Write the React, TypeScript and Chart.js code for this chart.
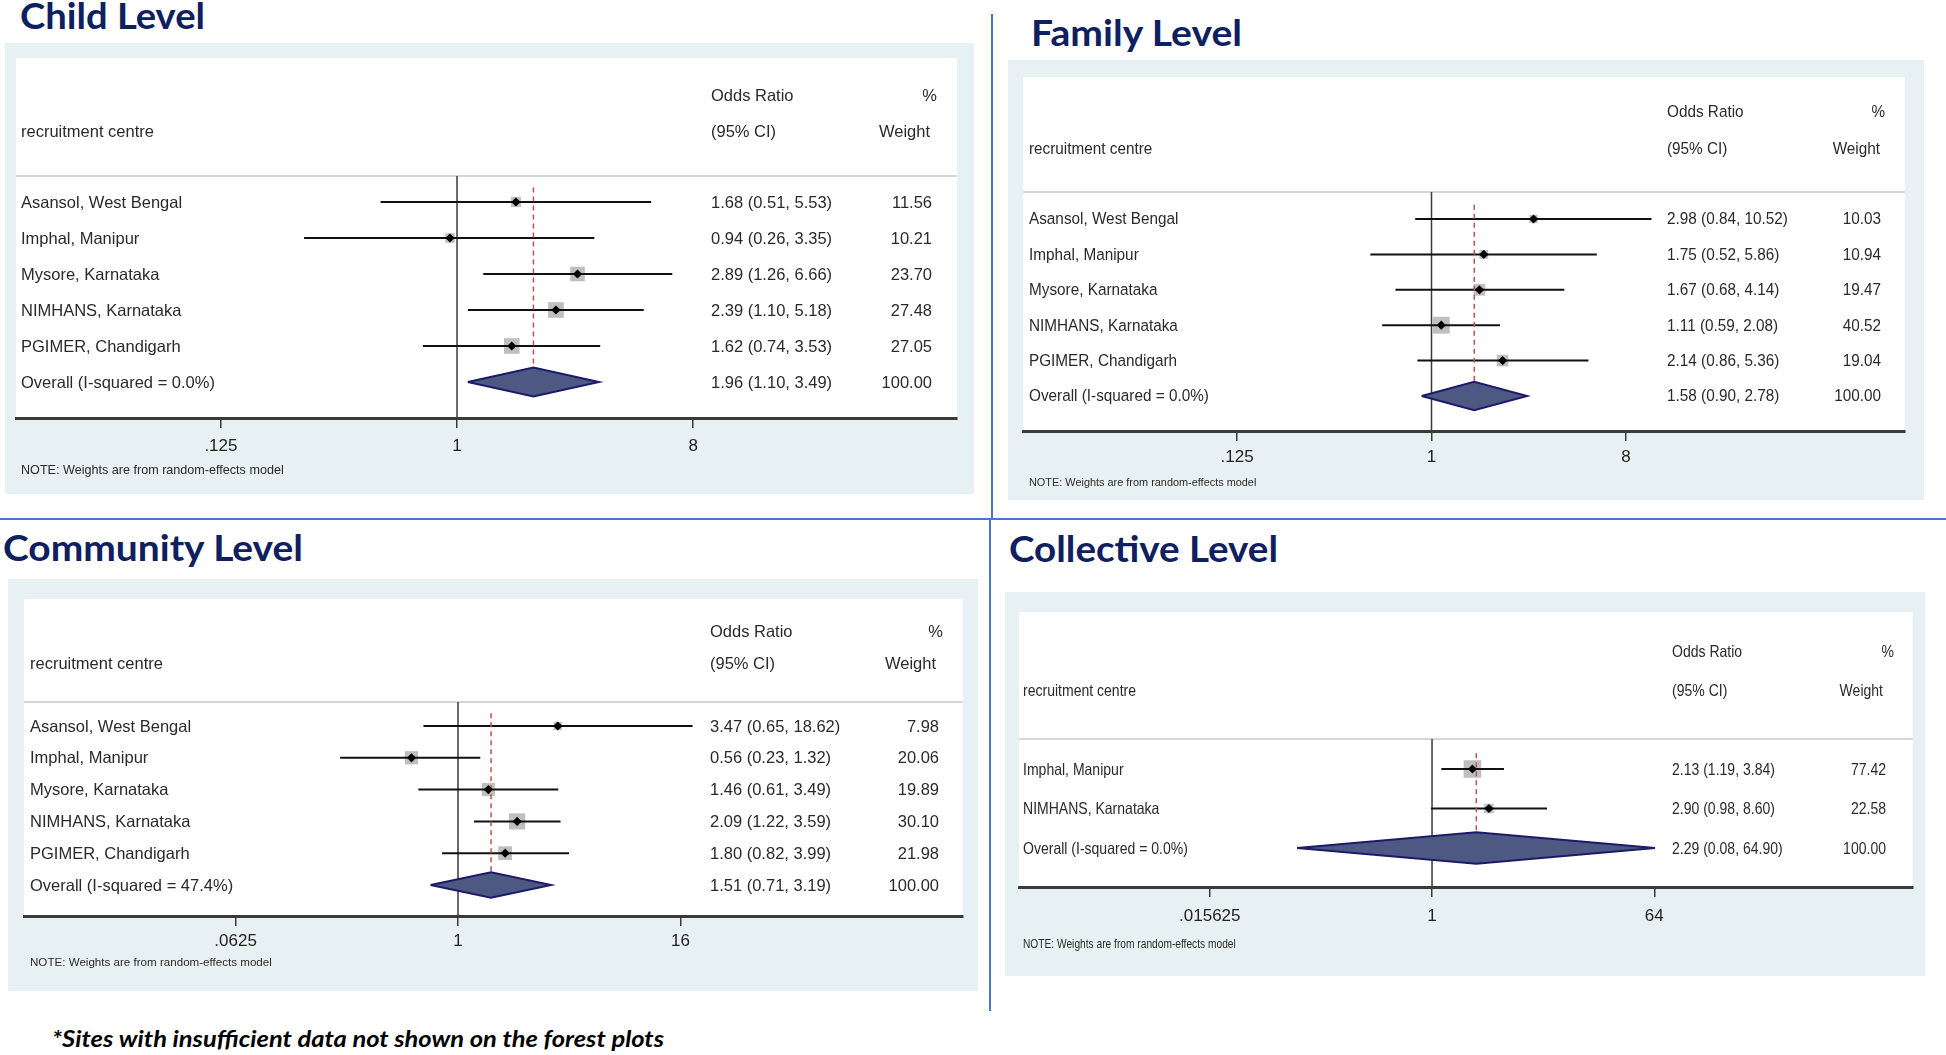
import React, { useEffect, useLayoutEffect, useRef } from "react";
import { Chart, registerables } from "chart.js";

Chart.register(...registerables);

// ---------------- Data ----------------
const panelTitles = ["Child Level", "Family Level", "Community Level", "Collective Level"];
const footnote = "*Sites with insufficient data not shown on the forest plots";
const noteText = "NOTE: Weights are from random-effects model";

const fiveSites = [
  "Asansol, West Bengal",
  "Imphal, Manipur",
  "Mysore, Karnataka",
  "NIMHANS, Karnataka",
  "PGIMER, Chandigarh",
];

// Child level
const childSites = fiveSites;
const childOR = [1.68, 0.94, 2.89, 2.39, 1.62];
const childLow = [0.51, 0.26, 1.26, 1.1, 0.74];
const childHigh = [5.53, 3.35, 6.66, 5.18, 3.53];
const childWeight = [11.56, 10.21, 23.7, 27.48, 27.05];
const childOverall = [1.96, 1.1, 3.49];
const childI2 = "0.0%";
const childTicks = [0.125, 1, 8];

// Family level
const familySites = fiveSites;
const familyOR = [2.98, 1.75, 1.67, 1.11, 2.14];
const familyLow = [0.84, 0.52, 0.68, 0.59, 0.86];
const familyHigh = [10.52, 5.86, 4.14, 2.08, 5.36];
const familyWeight = [10.03, 10.94, 19.47, 40.52, 19.04];
const familyOverall = [1.58, 0.9, 2.78];
const familyI2 = "0.0%";
const familyTicks = [0.125, 1, 8];

// Community level
const communitySites = fiveSites;
const communityOR = [3.47, 0.56, 1.46, 2.09, 1.8];
const communityLow = [0.65, 0.23, 0.61, 1.22, 0.82];
const communityHigh = [18.62, 1.32, 3.49, 3.59, 3.99];
const communityWeight = [7.98, 20.06, 19.89, 30.1, 21.98];
const communityOverall = [1.51, 0.71, 3.19];
const communityI2 = "47.4%";
const communityTicks = [0.0625, 1, 16];

// Collective level
const collectiveSites = ["Imphal, Manipur", "NIMHANS, Karnataka"];
const collectiveOR = [2.13, 2.9];
const collectiveLow = [1.19, 0.98];
const collectiveHigh = [3.84, 8.6];
const collectiveWeight = [77.42, 22.58];
const collectiveOverall = [2.29, 0.08, 64.9];
const collectiveI2 = "0.0%";
const collectiveTicks = [0.015625, 1, 64];

const overallWeight = 100;

// ---------------- Layout (page pixels) ----------------
type Layout = {
  bg: number[]; white: number[]; sep: number; row1: number; rowGap: number;
  one: number; unit: number; orX: number; wRight: number; pctRight: number;
  weightRight: number; hdr1: number; hdr2: number; labelX: number;
  tickY: number; noteY: number; font: number; sx: number; noteSize: number; boxK: number;
};

const childLayout: Layout = {
  bg: [5, 43, 974, 494], white: [16, 58, 957, 418], sep: 176, row1: 202, rowGap: 36,
  one: 457, unit: 78.7, orX: 711, wRight: 932, pctRight: 937, weightRight: 930,
  hdr1: 96, hdr2: 132, labelX: 21, tickY: 446, noteY: 471, font: 16.5, sx: 1, noteSize: 12.6, boxK: 3.0,
};
const familyLayout: Layout = {
  bg: [1008, 60, 1924, 500], white: [1023, 77, 1905, 431], sep: 192, row1: 219, rowGap: 35.4,
  one: 1431.5, unit: 64.8, orX: 1667, wRight: 1881, pctRight: 1885, weightRight: 1880,
  hdr1: 113, hdr2: 150, labelX: 1029, tickY: 457, noteY: 483, font: 16.3, sx: 0.94, noteSize: 11.6, boxK: 2.65,
};
const communityLayout: Layout = {
  bg: [8, 579, 978, 991], white: [24, 599, 963, 916], sep: 702, row1: 726, rowGap: 31.8,
  one: 458, unit: 55.6, orX: 710, wRight: 939, pctRight: 943, weightRight: 936,
  hdr1: 632, hdr2: 664, labelX: 30, tickY: 941, noteY: 963, font: 16.5, sx: 1, noteSize: 11.6, boxK: 2.95,
};
const collectiveLayout: Layout = {
  bg: [1005, 592, 1925, 976], white: [1019, 612, 1914, 887], sep: 739, row1: 769, rowGap: 39.5,
  one: 1432.7, unit: 37.1, orX: 1672, wRight: 1886, pctRight: 1894, weightRight: 1883,
  hdr1: 652, hdr2: 691, labelX: 1023, tickY: 916, noteY: 945, font: 16.5, sx: 0.85, noteSize: 12, boxK: 2.0,
};

type Panel = {
  sites: string[]; or: number[]; low: number[]; high: number[]; weight: number[];
  overall: number[]; i2: string; ticks: number[]; L: Layout;
};

const panels: Panel[] = [
  { sites: childSites, or: childOR, low: childLow, high: childHigh, weight: childWeight, overall: childOverall, i2: childI2, ticks: childTicks, L: childLayout },
  { sites: familySites, or: familyOR, low: familyLow, high: familyHigh, weight: familyWeight, overall: familyOverall, i2: familyI2, ticks: familyTicks, L: familyLayout },
  { sites: communitySites, or: communityOR, low: communityLow, high: communityHigh, weight: communityWeight, overall: communityOverall, i2: communityI2, ticks: communityTicks, L: communityLayout },
  { sites: collectiveSites, or: collectiveOR, low: collectiveLow, high: collectiveHigh, weight: collectiveWeight, overall: collectiveOverall, i2: collectiveI2, ticks: collectiveTicks, L: collectiveLayout },
];

const titleLayout = [
  { left: 20, base: 29, width: 185 },
  { left: 1031, base: 46, width: 211 },
  { left: 3, base: 561, width: 300 },
  { left: 1009, base: 562, width: 269 },
];

const FONT = '"Liberation Sans", Arial, Helvetica, sans-serif';
const TEXT_COLOR = "#2a2a2a";

const fmtTick = (v: number) => (v < 1 ? String(v).replace(/^0/, "") : String(v));
const fmtCI = (o: number, l: number, h: number) => `${o.toFixed(2)} (${l.toFixed(2)}, ${h.toFixed(2)})`;

function drawText(ctx: CanvasRenderingContext2D, text: string, x: number, y: number, align: CanvasTextAlign, size: number, sx: number) {
  ctx.save();
  ctx.translate(x, y);
  ctx.scale(sx, 1);
  ctx.textAlign = align;
  ctx.textBaseline = "middle";
  ctx.font = `${size}px ${FONT}`;
  ctx.fillStyle = TEXT_COLOR;
  ctx.fillText(text, 0, 0);
  ctx.restore();
}

function ForestChart({ p }: { p: Panel }) {
  const ref = useRef<HTMLCanvasElement>(null);
  const L = p.L;
  const W = L.bg[2] - L.bg[0];
  const H = L.bg[3] - L.bg[1];

  useEffect(() => {
    if (!ref.current) return;
    const n = p.sites.length;
    const yOf = (pix: number) => 1 + (pix - L.row1) / L.rowGap;
    const yMin = yOf(L.white[1]);
    const yMax = yOf(L.white[3]);
    const ySep = yOf(L.sep);
    const xMin = Math.pow(2, (L.white[0] - L.one) / L.unit);
    const xMax = Math.pow(2, (L.white[2] - L.one) / L.unit);
    const ovRow = n + 1;
    const [ov, ovLo, ovHi] = p.overall;
    const half = 0.4;

    const datasets: any[] = [];
    // null line
    datasets.push({ data: [{ x: 1, y: ySep }, { x: 1, y: yMax }], borderColor: "#3a3a3a", borderWidth: 1.5, pointRadius: 0, order: 10 });
    // weight boxes
    datasets.push({
      data: p.or.map((v, i) => ({ x: v, y: i + 1 })), showLine: false, pointStyle: "rect",
      pointRadius: p.weight.map((w) => (L.boxK * Math.sqrt(w)) / Math.SQRT2),
      pointBackgroundColor: "#bfbfbf", pointBorderWidth: 0, pointBorderColor: "#bfbfbf", order: 9,
    });
    // CI lines
    p.low.forEach((lo, i) => {
      datasets.push({ data: [{ x: lo, y: i + 1 }, { x: p.high[i], y: i + 1 }], borderColor: "#111111", borderWidth: 2, pointRadius: 0, order: 8 });
    });
    // overall dashed line
    datasets.push({ data: [{ x: ov, y: 1 - half }, { x: ov, y: ovRow + half }], borderColor: "#c0504d", borderDash: [5, 4], borderWidth: 1.5, pointRadius: 0, order: 7 });
    // overall diamond
    datasets.push({
      data: [{ x: ovLo, y: ovRow }, { x: ov, y: ovRow - half }, { x: ovHi, y: ovRow }, { x: ov, y: ovRow + half }, { x: ovLo, y: ovRow }],
      borderColor: "#1d1a6b", borderWidth: 2, backgroundColor: "#4e5983", fill: "shape", pointRadius: 0, order: 6,
      borderJoinStyle: "miter",
    });
    // point estimates
    datasets.push({
      data: p.or.map((v, i) => ({ x: v, y: i + 1 })), showLine: false, pointStyle: "rectRot", pointRadius: 4.6,
      pointBackgroundColor: "#000000", pointBorderWidth: 0, pointBorderColor: "#000000", order: 1,
    });

    const ox = L.bg[0];
    const oy = L.bg[1];

    const textPlugin = {
      id: "forestText",
      beforeDraw(chart: any) {
        const { ctx, chartArea: a } = chart;
        ctx.save();
        ctx.fillStyle = "#ffffff";
        ctx.fillRect(a.left, a.top, a.right - a.left, a.bottom - a.top);
        const yS = chart.scales.y.getPixelForValue(ySep);
        ctx.strokeStyle = "#c8c8c8";
        ctx.lineWidth = 1.5;
        ctx.beginPath();
        ctx.moveTo(a.left, yS);
        ctx.lineTo(a.right, yS);
        ctx.stroke();
        ctx.restore();
      },
      afterDraw(chart: any) {
        const ctx = chart.ctx as CanvasRenderingContext2D;
        const ys = chart.scales.y;
        const f = L.font;
        const sx = L.sx;
        drawText(ctx, "Odds Ratio", L.orX - ox, L.hdr1 - oy, "left", f, sx);
        drawText(ctx, "(95% CI)", L.orX - ox, L.hdr2 - oy, "left", f, sx);
        drawText(ctx, "%", L.pctRight - ox, L.hdr1 - oy, "right", f, sx);
        drawText(ctx, "Weight", L.weightRight - ox, L.hdr2 - oy, "right", f, sx);
        drawText(ctx, "recruitment centre", L.labelX - ox, L.hdr2 - oy, "left", f, sx);
        p.sites.forEach((s, i) => {
          const y = ys.getPixelForValue(i + 1) + 1;
          drawText(ctx, s, L.labelX - ox, y, "left", f, sx);
          drawText(ctx, fmtCI(p.or[i], p.low[i], p.high[i]), L.orX - ox, y, "left", f, sx);
          drawText(ctx, p.weight[i].toFixed(2), L.wRight - ox, y, "right", f, sx);
        });
        const yo = ys.getPixelForValue(ovRow) + 1;
        drawText(ctx, `Overall (I-squared = ${p.i2})`, L.labelX - ox, yo, "left", f, sx);
        drawText(ctx, fmtCI(ov, ovLo, ovHi), L.orX - ox, yo, "left", f, sx);
        drawText(ctx, overallWeight.toFixed(2), L.wRight - ox, yo, "right", f, sx);
        drawText(ctx, noteText, L.labelX - ox, L.noteY - oy, "left", L.noteSize, sx);
      },
    };

    const tickSize = 17;
    const tickPad = L.tickY - L.white[3] - 10 - (tickSize * 1.2) / 2;

    const chart = new Chart(ref.current, {
      type: "line",
      data: { datasets },
      options: {
        responsive: false,
        animation: false,
        events: [],
        layout: { padding: { left: L.white[0] - L.bg[0], top: L.white[1] - L.bg[1], right: L.bg[2] - L.white[2], bottom: 0 } },
        plugins: { legend: { display: false }, tooltip: { enabled: false } },
        scales: {
          x: {
            type: "logarithmic",
            min: xMin,
            max: xMax,
            bounds: "data",
            afterBuildTicks: (s: any) => {
              s.ticks = p.ticks.map((v) => ({ value: v }));
            },
            afterFit: (s: any) => {
              s.height = L.bg[3] - L.white[3];
            },
            grid: { drawOnChartArea: false, drawTicks: true, tickLength: 10, color: "#3a3a3a", lineWidth: 1.5 },
            border: { display: true, color: "#3a3a3a", width: 3 },
            ticks: {
              autoSkip: false, maxRotation: 0, minRotation: 0, padding: tickPad, color: "#222222",
              font: { family: FONT, size: tickSize },
              callback: (v: any) => fmtTick(Number(v)),
            },
          },
          y: { type: "linear", reverse: true, min: yMin, max: yMax, display: false },
        },
      } as any,
      plugins: [textPlugin as any],
    });
    return () => chart.destroy();
  }, []);

  return (
    <canvas
      ref={ref}
      width={W}
      height={H}
      style={{ position: "absolute", left: L.bg[0], top: L.bg[1], width: W, height: H, background: "#e7f0f2" }}
    />
  );
}

function FitText({ text, left, base, size, width, style }: { text: string; left: number; base: number; size: number; width: number; style?: React.CSSProperties }) {
  const ref = useRef<HTMLDivElement>(null);
  useLayoutEffect(() => {
    const el = ref.current;
    if (!el) return;
    const w = el.getBoundingClientRect().width;
    if (w > 0) el.style.transform = `scaleX(${width / w})`;
  }, []);
  return (
    <div
      ref={ref}
      style={{
        position: "absolute", left, top: base - 0.887 * size, fontSize: size, lineHeight: 1,
        whiteSpace: "nowrap", transformOrigin: "0 0", ...style,
      }}
    >
      {text}
    </div>
  );
}

export default function App() {
  const divider = "#4a76c8";
  return (
    <div style={{ position: "absolute", left: 0, top: 0, width: 1946, height: 1055, background: "#ffffff", overflow: "hidden" }}>
      {panels.map((p, i) => (
        <ForestChart key={i} p={p} />
      ))}
      {panelTitles.map((t, i) => (
        <FitText
          key={t}
          text={t}
          left={titleLayout[i].left}
          base={titleLayout[i].base}
          size={37}
          width={titleLayout[i].width}
          style={{ fontFamily: "Lato, sans-serif", fontWeight: 700, color: "#0e2060" }}
        />
      ))}
      <div style={{ position: "absolute", left: 991, top: 14, width: 2, height: 505, background: divider }} />
      <div style={{ position: "absolute", left: 0, top: 518, width: 1946, height: 2, background: divider }} />
      <div style={{ position: "absolute", left: 989, top: 519, width: 2, height: 492, background: divider }} />
      <FitText
        text={footnote}
        left={52}
        base={1048}
        size={22}
        width={612}
        style={{ fontFamily: "Lato, sans-serif", fontWeight: 700, fontStyle: "italic", color: "#000000" }}
      />
    </div>
  );
}
